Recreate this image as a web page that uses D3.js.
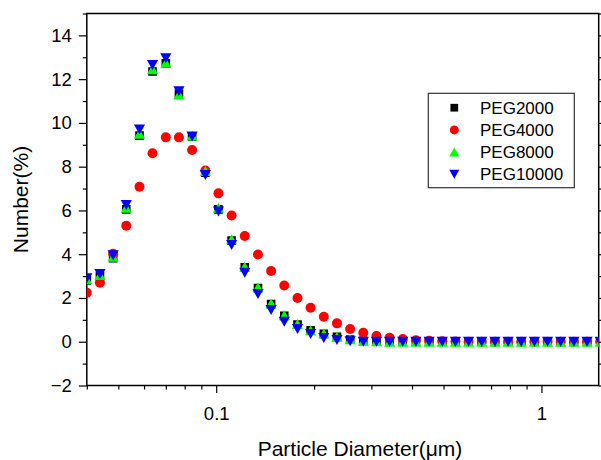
<!DOCTYPE html>
<html>
<head>
<meta charset="utf-8">
<script src="https://cdn.jsdelivr.net/npm/d3@7"></script>
<style>
  html, body { margin: 0; padding: 0; background: #fff; }
  svg { display: block; font-family: "Liberation Sans", Arial, sans-serif; }
</style>
</head>
<body>
<svg id="chart" width="601" height="460"></svg>
<script>
// Particle diameters (µm) of the size bins
const diameters = [0.0400, 0.0439, 0.0482, 0.0529, 0.0581, 0.0637, 0.0700, 0.0768, 0.0843, 0.0926,
                   0.1016, 0.1115, 0.1224, 0.1344, 0.1475, 0.1619, 0.1778, 0.1951, 0.2142, 0.2351,
                   0.2581, 0.2833, 0.3110, 0.3414, 0.3747, 0.4113, 0.4515, 0.4956, 0.5440, 0.5971,
                   0.6555, 0.7195, 0.7898, 0.8669, 0.9515, 1.0445, 1.1465, 1.2585, 1.3814, 1.5163];

// Number distribution (%) per bin for each PEG
const peg2000 = [2.80, 3.00, 3.82, 6.05, 9.42, 12.35, 12.72, 11.33, 9.38, 7.72,
                 6.05, 4.62, 3.40, 2.45, 1.72, 1.18, 0.78, 0.52, 0.36, 0.22,
                 0.10, 0.04, 0.02, 0, 0, 0, 0, 0, 0, 0,
                 0, 0, 0, 0, 0, 0, 0, 0, 0, 0];
const peg4000 = [2.24, 2.70, 4.02, 5.30, 7.08, 8.61, 9.34, 9.34, 8.76, 7.82,
                 6.78, 5.77, 4.83, 3.99, 3.23, 2.57, 2.00, 1.55, 1.14, 0.84,
                 0.58, 0.41, 0.26, 0.18, 0.12, 0.07, 0.04, 0.02, 0.01, 0,
                 0, 0, 0, 0, 0, 0, 0, 0, 0, 0];
const peg8000 = [2.85, 3.05, 3.88, 6.12, 9.50, 12.45, 12.75, 11.30, 9.42, 7.80,
                 6.12, 4.68, 3.43, 2.49, 1.75, 1.21, 0.81, 0.53, 0.38, 0.23,
                 0.11, 0.05, 0.02, 0, 0, 0, 0, 0, 0, 0,
                 0, 0, 0, 0, 0, 0, 0, 0, 0, 0];
const peg10000 = [2.90, 3.10, 3.95, 6.25, 9.70, 12.65, 12.95, 11.45, 9.38, 7.62,
                  5.95, 4.42, 3.15, 2.18, 1.45, 0.91, 0.58, 0.35, 0.17, 0.08,
                  0.02, 0, 0, 0, 0, 0, 0, 0, 0, 0,
                  0, 0, 0, 0, 0, 0, 0, 0, 0, 0];

const seriesNames = ["PEG2000", "PEG4000", "PEG8000", "PEG10000"];
const seriesValues = [peg2000, peg4000, peg8000, peg10000];
const seriesColors = ["#000000", "#ff0000", "#00ff00", "#0000ff"];
const seriesShapes = ["square", "circle", "triangleUp", "triangleDown"];

const yMajorTicks = [-2, 0, 2, 4, 6, 8, 10, 12, 14];
const yMinorTicks = [-1, 1, 3, 5, 7, 9, 11, 13, 15];
const xMajorTicks = [0.1, 1];
const xMinorTicks = [0.04, 0.05, 0.06, 0.07, 0.08, 0.09, 0.2, 0.3, 0.4, 0.5, 0.6, 0.7, 0.8, 0.9];

const svg = d3.select("#chart");
const plot = { left: 86.8, right: 598.7, top: 13.5, bottom: 385.5 };

const x = d3.scaleLog().domain([0.04, 1.5]).range([plot.left, plot.right]);
const y = d3.scaleLinear().domain([-2, 15]).range([plot.bottom, plot.top]);

// marker outlines, centred on their bounding box
function markerPath(shape) {
  switch (shape) {
    case "square": return "M-4.3,-4.3H4.3V4.3H-4.3Z";
    case "circle": return "M5,0A5,5 0 1,1 -5,0A5,5 0 1,1 5,0Z";
    case "triangleUp": return "M0,-5L5.6,5L-5.6,5Z";
    case "triangleDown": return "M0,5L5.6,-5L-5.6,-5Z";
  }
}

svg.append("defs").append("clipPath").attr("id", "plot-clip")
  .append("rect")
  .attr("x", plot.left).attr("y", plot.top)
  .attr("width", plot.right - plot.left).attr("height", plot.bottom - plot.top);

// axes
const tickFont = "18.5px";
function styleAxis(g) {
  g.select(".domain").remove();
  g.selectAll(".tick line").attr("stroke", "#000").attr("stroke-width", 1.2);
  g.selectAll("text").attr("font-size", tickFont).attr("font-family", "Liberation Sans, Arial, sans-serif").attr("fill", "#000");
}

svg.append("g").attr("transform", `translate(${plot.left},0)`)
  .call(d3.axisLeft(y).tickValues(yMajorTicks).tickSize(8).tickPadding(7).tickFormat(d3.format("d")))
  .call(styleAxis);
svg.append("g").attr("transform", `translate(${plot.left},0)`)
  .call(d3.axisLeft(y).tickValues(yMinorTicks).tickSize(4).tickFormat(""))
  .call(styleAxis);

svg.append("g").attr("transform", `translate(${plot.right},0)`)
  .call(d3.axisRight(y).tickValues(yMajorTicks).tickSize(8).tickFormat(""))
  .call(styleAxis);
svg.append("g").attr("transform", `translate(${plot.right},0)`)
  .call(d3.axisRight(y).tickValues(yMinorTicks).tickSize(4).tickFormat(""))
  .call(styleAxis);

svg.append("g").attr("transform", `translate(0,${plot.bottom})`)
  .call(d3.axisBottom(x).tickValues(xMajorTicks).tickSize(7.5).tickPadding(14).tickFormat(d => String(d)))
  .call(styleAxis);
svg.append("g").attr("transform", `translate(0,${plot.bottom})`)
  .call(d3.axisBottom(x).tickValues(xMinorTicks).tickSize(4).tickFormat(""))
  .call(styleAxis);

// frame
svg.append("rect")
  .attr("x", plot.left).attr("y", plot.top)
  .attr("width", plot.right - plot.left).attr("height", plot.bottom - plot.top)
  .attr("fill", "none").attr("stroke", "#000").attr("stroke-width", 1.5);

// scatter markers
const marks = svg.append("g").attr("clip-path", "url(#plot-clip)");
seriesValues.forEach((vals, s) => {
  marks.append("g").selectAll("path")
    .data(vals.map((v, i) => ({ d: diameters[i], v })))
    .join("path")
    .attr("transform", p => `translate(${x(p.d)},${y(p.v)})`)
    .attr("d", markerPath(seriesShapes[s]))
    .attr("fill", seriesColors[s]);
});

// axis titles
svg.append("text")
  .attr("x", 360).attr("y", 456)
  .attr("text-anchor", "middle").attr("font-size", "21px").attr("fill", "#000")
  .text("Particle Diameter(μm)");
svg.append("text")
  .attr("transform", `translate(28,${(plot.top + plot.bottom) / 2}) rotate(-90)`)
  .attr("text-anchor", "middle").attr("font-size", "21px").attr("fill", "#000")
  .text("Number(%)");

// legend
const legend = svg.append("g");
legend.append("rect")
  .attr("x", 428.3).attr("y", 93.3).attr("width", 146).attr("height", 94.4)
  .attr("fill", "#fff").attr("stroke", "#333").attr("stroke-width", 1.2);
seriesNames.forEach((name, s) => {
  const cy = 107.7 + s * 22.2;
  legend.append("path")
    .attr("transform", `translate(454.3,${cy}) scale(0.9)`)
    .attr("d", markerPath(seriesShapes[s]))
    .attr("fill", seriesColors[s]);
  legend.append("text")
    .attr("x", 480).attr("y", cy + 6)
    .attr("font-size", "17px").attr("fill", "#000")
    .text(name);
});
</script>
</body>
</html>
